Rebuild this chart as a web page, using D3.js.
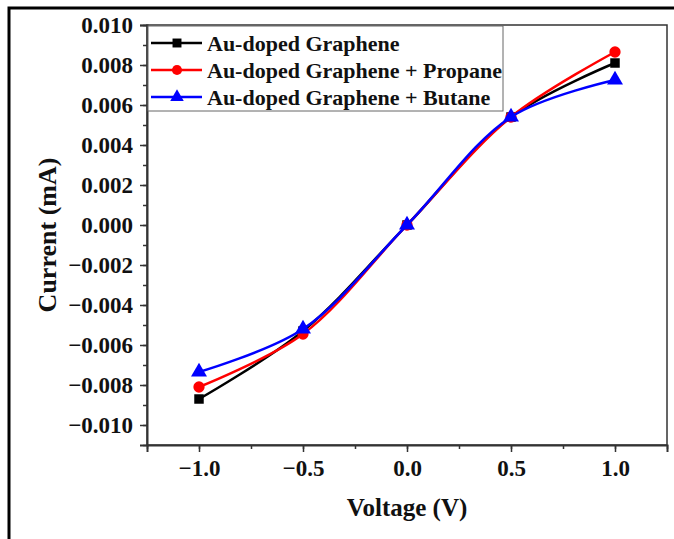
<!DOCTYPE html>
<html>
<head>
    <meta charset="utf-8">
    <style type="text/css">
        body { margin: 0; background: #fff; }
        #mySvg { width: 674px; height: 539px; display: block; }
        text { font-family: "Liberation Serif", "Times New Roman", serif; font-weight: bold; fill: #111; }
        .axis path, .axis line { stroke: #333; }
    </style>
    <script src="https://d3js.org/d3.v7.min.js"></script>
</head>
<body>
    <svg id="mySvg"></svg>
</body>
<script type="text/javascript">
// data
const voltage = [-1.0, -0.5, 0.0, 0.5, 1.0];
const pureGraphene = [-0.0087, -0.0053, 0.0, 0.0054, 0.0081];
const withPropane  = [-0.0081, -0.00545, 0.0, 0.0054, 0.00865];
const withButane   = [-0.00735, -0.0052, 0.0, 0.0054, 0.00725];
const seriesNames = ['Au-doped Graphene', 'Au-doped Graphene + Propane', 'Au-doped Graphene + Butane'];
const seriesColors = ['#000000', '#ff0000', '#0000ff'];
const seriesSymbols = [d3.symbolSquare, d3.symbolCircle, d3.symbolTriangle];
const xTicks = [-1.0, -0.5, 0.0, 0.5, 1.0];
const yTicks = [-0.010, -0.008, -0.006, -0.004, -0.002, 0.000, 0.002, 0.004, 0.006, 0.008, 0.010];

const allSeries = [pureGraphene, withPropane, withButane];

const svg = d3.select('#mySvg');
const plotL = 147, plotR = 667, plotT = 25, plotB = 445;

// outer frame of the figure
svg.append('rect')
    .attr('x', 9).attr('y', 8)
    .attr('width', 700).attr('height', 600)
    .attr('fill', 'none').attr('stroke', '#000').attr('stroke-width', 3);

const x = d3.scaleLinear().domain([-1.25, 1.25]).range([plotL, plotR]);
const y = d3.scaleLinear().domain([-0.011, 0.010]).range([plotB, plotT]);

// box
svg.append('rect')
    .attr('x', plotL).attr('y', plotT)
    .attr('width', plotR - plotL).attr('height', plotB - plotT)
    .attr('fill', 'none').attr('stroke', '#333').attr('stroke-width', 1.5);

// minor ticks
svg.append('g').attr('class', 'axis')
    .attr('transform', 'translate(0,' + plotB + ')')
    .call(d3.axisBottom(x).tickValues(d3.range(-1.25, 1.26, 0.25)).tickSize(4).tickFormat(''))
    .call(g => g.select('.domain').remove())
    .selectAll('line').attr('stroke-width', 1.5);
svg.append('g').attr('class', 'axis')
    .attr('transform', 'translate(' + plotL + ',0)')
    .call(d3.axisLeft(y).tickValues(d3.range(-0.011, 0.0105, 0.001)).tickSize(4).tickFormat(''))
    .call(g => g.select('.domain').remove())
    .selectAll('line').attr('stroke-width', 1.5);

// major ticks (d3.format already gives the long minus sign)
const xAxis = svg.append('g').attr('class', 'axis')
    .attr('transform', 'translate(0,' + plotB + ')')
    .call(d3.axisBottom(x).tickValues(xTicks).tickSize(7).tickPadding(8)
        .tickFormat(d3.format('.1f')));
xAxis.select('.domain').attr('stroke-width', 2);
xAxis.selectAll('line').attr('stroke-width', 1.5);
xAxis.selectAll('text').style('font-size', '23px').attr('fill', '#111');

const yAxis = svg.append('g').attr('class', 'axis')
    .attr('transform', 'translate(' + plotL + ',0)')
    .call(d3.axisLeft(y).tickValues(yTicks).tickSize(7).tickPadding(7)
        .tickFormat(d3.format('.3f')));
yAxis.select('.domain').attr('stroke-width', 2);
yAxis.selectAll('line').attr('stroke-width', 1.5);
yAxis.selectAll('text').style('font-size', '23px').attr('fill', '#111');

// axis titles
svg.append('text')
    .attr('x', (plotL + plotR) / 2).attr('y', 516)
    .attr('text-anchor', 'middle')
    .style('font-size', '25px')
    .text('Voltage (V)');
svg.append('text')
    .attr('transform', 'translate(56,' + ((plotT + plotB) / 2) + ') rotate(-90)')
    .attr('text-anchor', 'middle')
    .style('font-size', '26px')
    .text('Current (mA)');

// curves
const line = d3.line()
    .x((d, i) => x(voltage[i]))
    .y(d => y(d))
    .curve(d3.curveCatmullRom.alpha(0.5));

allSeries.forEach((vals, k) => {
    svg.append('path')
        .datum(vals)
        .attr('d', line)
        .attr('fill', 'none')
        .attr('stroke', seriesColors[k])
        .attr('stroke-width', 2.5);
    svg.append('g').selectAll('path')
        .data(vals)
        .enter()
        .append('path')
        .attr('transform', (d, i) => 'translate(' + x(voltage[i]) + ',' + y(d) + ')')
        .attr('d', d3.symbol().type(seriesSymbols[k]).size(k == 0 ? 90 : k == 1 ? 100 : 110))
        .attr('fill', seriesColors[k]);
});

// legend
const legend = svg.append('g').attr('transform', 'translate(148,26)');
legend.append('rect')
    .attr('width', 355).attr('height', 85)
    .attr('fill', '#fff').attr('stroke', '#666').attr('stroke-width', 1);
const rows = legend.selectAll('g.row')
    .data(seriesNames)
    .enter()
    .append('g')
    .attr('class', 'row')
    .attr('transform', (d, i) => 'translate(0,' + (17 + i * 27) + ')');
rows.append('line')
    .attr('x1', 3).attr('x2', 54)
    .attr('stroke', (d, i) => seriesColors[i])
    .attr('stroke-width', 2.5);
rows.append('path')
    .attr('transform', 'translate(29,0)')
    .attr('d', (d, i) => d3.symbol().type(seriesSymbols[i]).size(80)())
    .attr('fill', (d, i) => seriesColors[i]);
rows.append('text')
    .attr('x', 59).attr('dy', '0.35em')
    .style('font-size', '22px')
    .text(d => d);
</script>
</html>
